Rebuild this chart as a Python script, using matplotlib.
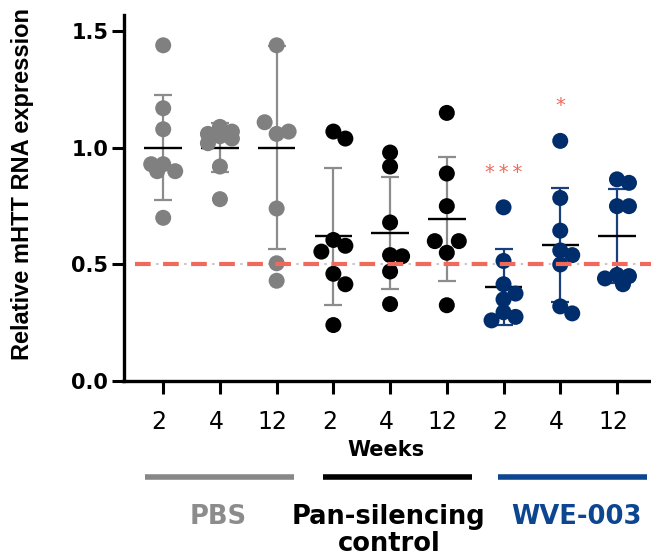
import numpy as np
import matplotlib
matplotlib.use("Agg")
import matplotlib.pyplot as plt
from matplotlib.lines import Line2D
from matplotlib.transforms import ScaledTranslation

# ---------------- data ----------------
group_names = ["PBS", "Pan-silencing", "WVE-003"]
group_second_line = ["", "control", ""]
week_labels = ["2", "4", "12", "2", "4", "12", "2", "4", "12"]

pbs_w2 = [1.44, 1.17, 1.08, 0.93, 0.90, 0.93, 0.90, 0.70]
pbs_w4 = [1.09, 1.07, 1.06, 1.05, 1.04, 1.02, 0.92, 0.78]
pbs_w12 = [1.44, 1.06, 1.07, 1.11, 0.74, 0.505, 0.43]
pan_w2 = [1.07, 1.04, 0.605, 0.58, 0.555, 0.46, 0.415, 0.24]
pan_w4 = [0.98, 0.92, 0.68, 0.54, 0.535, 0.47, 0.33]
pan_w12 = [1.15, 0.89, 0.75, 0.55, 0.60, 0.60, 0.325]
wve_w2 = [0.745, 0.515, 0.415, 0.375, 0.35, 0.295, 0.275, 0.26]
wve_w4 = [1.03, 0.785, 0.645, 0.56, 0.54, 0.50, 0.32, 0.29]
wve_w12 = [0.865, 0.85, 0.75, 0.75, 0.455, 0.45, 0.44, 0.415]

group_means = [1.00, 1.00, 1.00, 0.62, 0.635, 0.695, 0.403, 0.584, 0.622]
group_sds = [0.225, 0.105, 0.435, 0.292, 0.24, 0.265, 0.162, 0.243, 0.20]

significance = ["", "", "", "", "", "", "*\u2009*\u2009*", "*", ""]
threshold = 0.5

all_values = [pbs_w2, pbs_w4, pbs_w12, pan_w2, pan_w4, pan_w12, wve_w2, wve_w4, wve_w12]

# ---------------- styles ----------------
gray_pt = "#808080"
gray_bar = "#8c8c8c"
navy_pt = "#002d6b"
navy_bar = "#1b3f7c"
blue_grp = "#0d4690"
red = "#f0695a"
point_colors = [gray_pt] * 3 + ["#000000"] * 3 + [navy_pt] * 3
bar_colors = [gray_bar] * 3 + [gray_bar] * 3 + [navy_bar] * 3
group_line_colors = ["#878787", "#000000", blue_grp]
group_text_colors = ["#8c8c8c", "#000000", blue_grp]

plt.rcParams["lines.scale_dashes"] = False
W, H, DPI = 651, 558, 100
fig = plt.figure(figsize=(W / DPI, H / DPI), dpi=DPI)
ax = fig.add_axes([123.5 / W, (H - 381) / H, 1 - 123.5 / W, (381 - 15) / H])
ax.set_xlim(-0.7, 8.6)
ax.set_ylim(0, 1.57)

xpos = np.arange(len(all_values))

# bounded beeswarm offsets computed in display space
def swarm(x0, vals, diam_px):
    placed = []
    offs = []
    w = diam_px * 0.75
    cands = [0.0, w, -w, w / 2, -w / 2]
    for v in vals:
        _, yp = ax.transData.transform((x0, v))
        best, best_d = 0.0, -1.0
        for c in cands:
            d = min([np.hypot(c - px, yp - py) for px, py in placed] or [1e9])
            if d >= diam_px * 0.75:
                best = c
                break
            if d > best_d:
                best, best_d = c, d
        placed.append((best, yp))
        offs.append(best)
    x0p, _ = ax.transData.transform((x0, 0))
    return [ax.transData.inverted().transform((x0p + o, 0))[0] for o in offs]

diam = 16.0
ms_area = (diam * 72 / DPI) ** 2

for i, vals in enumerate(all_values):
    m, s = group_means[i], group_sds[i]
    ax.errorbar([xpos[i]], [m], yerr=[s], fmt="none", ecolor=bar_colors[i],
                elinewidth=1.6, capsize=6.5, capthick=1.6, zorder=2)
    ax.hlines(m, xpos[i] - 0.33, xpos[i] + 0.33, colors="black", linewidth=1.7, zorder=3)
    xs = swarm(xpos[i], vals, diam)
    ax.scatter(xs, vals, s=ms_area, color=point_colors[i], edgecolors="none", zorder=4)
    if significance[i]:
        ax.text(xpos[i], max(vals) + 0.15, significance[i], ha="center", va="center",
                color=red, fontsize=14, family="DejaVu Sans", zorder=6)

# threshold line: gray dots + red dashes
x0px = ax.transData.transform((0, 0))[0]
x_start_red = ax.transData.inverted().transform((x0px - 28, 0))[0]
ax.plot([x_start_red, 8.6], [threshold, threshold], color=red, linewidth=3.0,
        dashes=(11.3, 8.9), zorder=7, dash_capstyle="butt")
x_start_gray = ax.transData.inverted().transform((x0px - 7.5, 0))[0]
ax.plot([x_start_gray, 8.6], [threshold, threshold], color="#c8c8c8", linewidth=1.5,
        dashes=(1.8, 18.4), zorder=1, dash_capstyle="butt")

# axes styling
for side in ["top", "right"]:
    ax.spines[side].set_visible(False)
ax.spines["left"].set_linewidth(2.4)
ax.spines["bottom"].set_linewidth(2.4)
ax.set_yticks([0, 0.5, 1.0, 1.5])
ax.set_yticklabels(["0.0", "0.5", "1.0", "1.5"], fontsize=15, fontweight="bold",
                   family="DejaVu Sans")
ax.tick_params(axis="y", length=9, width=2.2, pad=2)
ax.set_xticks(xpos)
ax.set_xticklabels(week_labels, fontsize=17, family="DejaVu Sans")
ax.tick_params(axis="x", length=9, width=2.2, pad=12)
for lab in ax.get_xticklabels():
    lab.set_transform(lab.get_transform() + ScaledTranslation(-4 / DPI, 0, fig.dpi_scale_trans))

fig.text(23 / W, 1 - 184 / H, "Relative mHTT RNA expression", rotation=90,
         ha="center", va="center", fontsize=17, fontweight="bold", family="Liberation Sans")

fig.text(386 / W, 1 - 450 / H, "Weeks", ha="center", va="center", fontsize=15,
         fontweight="bold", family="DejaVu Sans")

# group bars and labels
line_starts = [145, 323, 498]
line_len = 149
label_cx = [218.5, 388.8, 576]
for g in range(3):
    fig.add_artist(Line2D([line_starts[g] / W, (line_starts[g] + line_len) / W],
                          [1 - 477 / H, 1 - 477 / H], color=group_line_colors[g],
                          linewidth=4.0, solid_capstyle="butt"))
    fig.text(label_cx[g] / W, 1 - 524 / H, group_names[g], ha="center", va="baseline",
             fontsize=18.5, fontweight="bold", family="DejaVu Sans",
             color=group_text_colors[g])
    if group_second_line[g]:
        fig.text(label_cx[g] / W, 1 - 551 / H, group_second_line[g], ha="center",
                 va="baseline", fontsize=18.5, fontweight="bold", family="DejaVu Sans",
                 color=group_text_colors[g])

fig.savefig("out.png", dpi=DPI)
